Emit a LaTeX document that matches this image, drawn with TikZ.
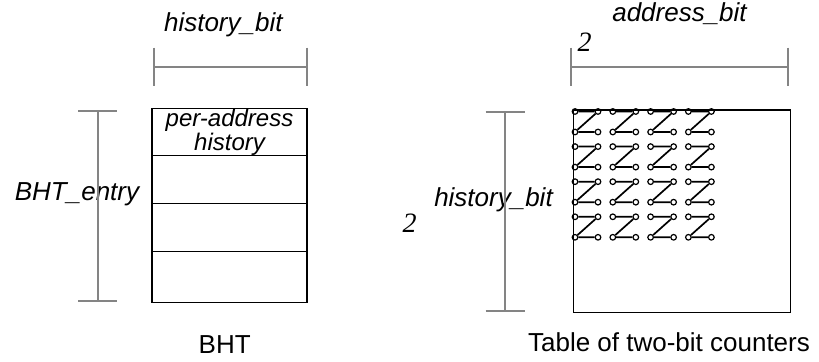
\documentclass[tikz,border=0pt]{standalone}
\usepackage{fontspec}
\setmainfont{Liberation Sans}
\newfontfamily\numfont{Liberation Serif}
\usepackage{xcolor}
\usepackage{tikz}
\usetikzlibrary{positioning}
\definecolor{dimgray}{RGB}{132,132,132}

\begin{document}
\begin{tikzpicture}
  [
    x=0.5pt, y=-0.5pt,
    Row/.style={rectangle, draw=black, line width=0.65pt, minimum width=77.5pt, inner sep=0pt, outer sep=0pt},
    Table/.style={rectangle, draw=black, line width=0.65pt, minimum width=108.7pt, minimum height=101.2pt, inner sep=0pt},
    Label/.style={font=\fontsize{13}{15}\selectfont\itshape, anchor=base, inner sep=0pt},
    Caption/.style={font=\fontsize{13}{15}\selectfont, anchor=base, inner sep=0pt},
    Power/.style={font=\fontsize{14}{15}\selectfont\numfont\itshape, anchor=base, inner sep=0pt},
    Dim/.style={draw=dimgray, line width=0.85pt},
    Bit/.style={circle, draw=black, line width=0.6pt, inner sep=0pt, minimum size=2.8pt},
    Link/.style={draw, line width=0.85pt}
  ]
  \useasboundingbox (0,0) rectangle (819,362);
  % BHT
  \node[Row, minimum height=23pt, align=center, font=\fontsize{12}{7.8}\selectfont\itshape] (h0) at (229.5,132) {per-address\\history};
  \node[Row, minimum height=24pt, below=0pt of h0] (h1) {};
  \node[Row, minimum height=24pt, below=0pt of h1] (h2) {};
  \node[Row, minimum height=25.5pt, below=0pt of h2] (h3) {};
  \node[Caption] (bht) at (224.7,354) {BHT};
  \node[Label] (hbit) at (223.3,31.7) {history\_bit};
  \node[Label] (entry) at (77,201) {BHT\_entry};
  % counter table
  \node[Table] (tab) at (682,211.2) {};
  \node[Caption] (tabname) at (669,352) {Table of two-bit counters};
  \node[Label] (abit) at (679.5,21.7) {address\_bit};
  \node[Power] (two1) at (584.7,51.7) {2};
  \node[Label] (hbit2) at (493.5,206.7) {history\_bit};
  \node[Power] (two2) at (409.7,233) {2};
  % two-bit counters
  \foreach \i in {0,...,3}
    \foreach \j in {0,...,3} {
      \pgfmathsetmacro\xa{575+37.8*\i}
      \pgfmathsetmacro\xb{598+37.8*\i}
      \pgfmathsetmacro\ya{111.5+35.1*\j}
      \pgfmathsetmacro\yb{132+35.1*\j}
      \node[Bit] (a\i\j) at (\xa,\ya) {};
      \node[Bit] (b\i\j) at (\xb,\ya) {};
      \node[Bit] (c\i\j) at (\xa,\yb) {};
      \node[Bit] (d\i\j) at (\xb,\yb) {};
      \path[Link] (a\i\j) -- (b\i\j) -- (c\i\j) -- (d\i\j);
    }
  % Dimension lines
  \coordinate (w0) at (154.3,66.7);
  \coordinate (w1) at (306.7,66.7);
  \coordinate (v0) at (571,66.7);
  \coordinate (v1) at (788.3,66.7);
  \coordinate (e0) at (97.7,111);
  \coordinate (e1) at (97.7,300.7);
  \coordinate (r0) at (505,111.7);
  \coordinate (r1) at (505,310.7);
  \foreach \p/\q in {w0/w1, v0/v1} {
    \path[Dim] (\p) -- (\q);
    \path[Dim] ([yshift=9.5pt]\p) -- ([yshift=-9.5pt]\p);
    \path[Dim] ([yshift=9.5pt]\q) -- ([yshift=-9.5pt]\q);
  }
  \foreach \p/\q in {e0/e1, r0/r1} {
    \path[Dim] (\p) -- (\q);
    \path[Dim] ([xshift=-9.75pt]\p) -- ([xshift=9.75pt]\p);
    \path[Dim] ([xshift=-9.75pt]\q) -- ([xshift=9.75pt]\q);
  }
\end{tikzpicture}
\end{document}
